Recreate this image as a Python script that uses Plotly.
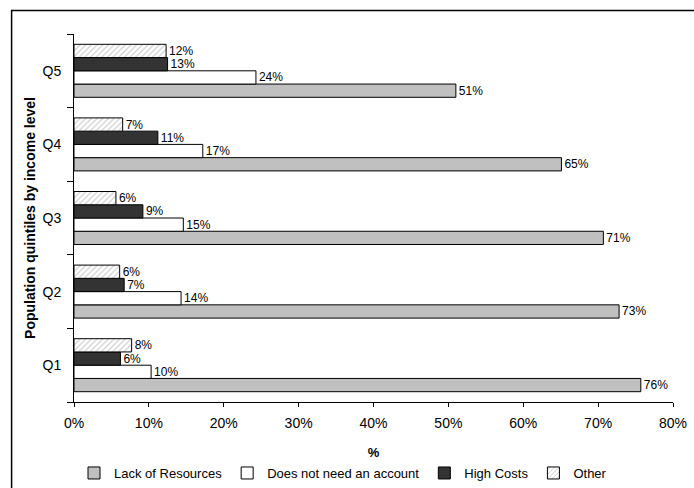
import plotly.graph_objects as go

quintiles = ["Q1", "Q2", "Q3", "Q4", "Q5"]
lack = [75.7, 72.8, 70.7, 65.1, 51.0]
no_need = [10.3, 14.3, 14.6, 17.2, 24.3]
high_costs = [6.2, 6.7, 9.2, 11.2, 12.5]
other = [7.7, 6.1, 5.6, 6.5, 12.3]

lack_lbl = ["76%", "73%", "71%", "65%", "51%"]
no_need_lbl = ["10%", "14%", "15%", "17%", "24%"]
high_lbl = ["6%", "7%", "9%", "11%", "13%"]
other_lbl = ["8%", "6%", "6%", "7%", "12%"]

x_ticks = [0, 10, 20, 30, 40, 50, 60, 70, 80]
x_tick_text = ["0%", "10%", "20%", "30%", "40%", "50%", "60%", "70%", "80%"]

FONT = "Liberation Sans, Arial, sans-serif"

def bar(name, vals, labels, color, pattern=None):
    marker = dict(color=color, line=dict(color="black", width=1))
    if pattern:
        marker["pattern"] = pattern
    return go.Bar(
        name=name, y=quintiles, x=vals, orientation="h",
        text=labels, textposition="outside", cliponaxis=False,
        constraintext="none",
        textfont=dict(size=12, color="black", family=FONT),
        marker=marker,
    )

fig = go.Figure()
fig.add_trace(bar("Lack of Resources", lack, lack_lbl, "#C0C0C0"))
fig.add_trace(bar("Does not need an account", no_need, no_need_lbl, "#FFFFFF"))
fig.add_trace(bar("High Costs", high_costs, high_lbl, "#333333"))
fig.add_trace(bar("Other", other, other_lbl, "#FFFFFF",
                  pattern=dict(shape="/", fgcolor="#888888", bgcolor="#FFFFFF",
                               size=4, solidity=0.25)))

fig.update_layout(
    width=694, height=488,
    margin=dict(l=73.5, r=20.5, t=34, b=86, autoexpand=False),
    paper_bgcolor="white", plot_bgcolor="white",
    font=dict(family=FONT, size=13, color="black"),
    barmode="group", bargap=0.28, bargroupgap=0,
    showlegend=True,
    legend=dict(orientation="h", x=0.0, xanchor="left", y=-0.193, yanchor="middle",
                font=dict(size=13), itemwidth=30, traceorder="normal",
                tracegroupgap=0, bgcolor="rgba(0,0,0,0)"),
    xaxis=dict(range=[0, 80], tickvals=x_ticks, ticktext=x_tick_text,
               showgrid=False, zeroline=False, showline=True, linecolor="black",
               linewidth=1, ticks="outside", ticklen=4, tickcolor="black",
               ticklabelstandoff=4,
               title=dict(text="<b>%</b>", standoff=18, font=dict(size=13)),
               tickfont=dict(size=14)),
    yaxis=dict(categoryorder="array", categoryarray=quintiles,
               showgrid=False, zeroline=False, showline=True, linecolor="black",
               linewidth=1, ticks="outside", ticklen=6, tickcolor="black",
               tickson="boundaries", ticklabelstandoff=9,
               title=dict(text="<b>Population quintiles by income level</b>",
                          standoff=3, font=dict(size=14)),
               tickfont=dict(size=14)),
    shapes=[dict(type="rect", xref="paper", yref="paper",
                 x0=(11 - 73.5) / 600, x1=1.2, y0=-0.4, y1=(402 - 10.5) / 368,
                 line=dict(color="black", width=1.5), fillcolor="rgba(0,0,0,0)",
                 layer="below")],
)

fig.write_html("out.html")
